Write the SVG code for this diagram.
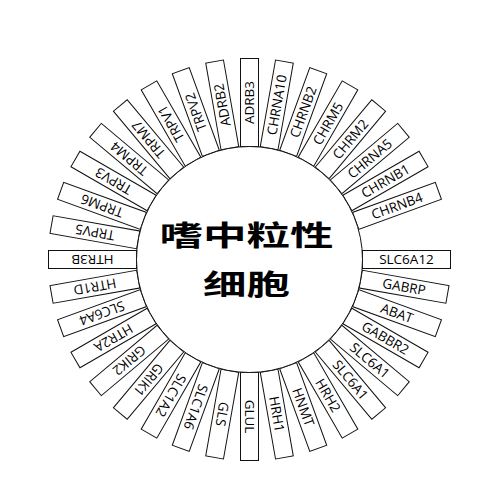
<svg xmlns="http://www.w3.org/2000/svg" width="500" height="500" viewBox="0 0 500 500">
<style>
.box{fill:#fff;stroke:#111;stroke-width:1}
.lbl{font-family:"Open Sans","Liberation Sans",Arial,sans-serif;font-size:13.5px;fill:#000;text-anchor:middle}
.core{fill:#fff;stroke:#111;stroke-width:1}
.cn{font-family:"Noto Sans CJK SC","Noto Sans CJK TC",sans-serif;font-weight:700;font-size:29px;fill:#000;text-anchor:middle}
</style>
<defs>
<rect id="bx" class="box" x="113" y="-9" width="88" height="18"/>
</defs>
<rect width="500" height="500" fill="#fff"/>
<g id="genes">
<g id="ADRB3" transform="translate(249.5,259.5) rotate(-90)"><use href="#bx"/><text class="lbl" x="157" y="4.8">ADRB3</text></g>
<g id="CHRNA10" transform="translate(249.5,259.5) rotate(-80)"><use href="#bx"/><text class="lbl" x="157" y="4.8">CHRNA10</text></g>
<g id="CHRNB2" transform="translate(249.5,259.5) rotate(-70)"><use href="#bx"/><text class="lbl" x="157" y="4.8">CHRNB2</text></g>
<g id="CHRM5" transform="translate(249.5,259.5) rotate(-60)"><use href="#bx"/><text class="lbl" x="157" y="4.8">CHRM5</text></g>
<g id="CHRM2" transform="translate(249.5,259.5) rotate(-50)"><use href="#bx"/><text class="lbl" x="157" y="4.8">CHRM2</text></g>
<g id="CHRNA5" transform="translate(249.5,259.5) rotate(-40)"><use href="#bx"/><text class="lbl" x="157" y="4.8">CHRNA5</text></g>
<g id="CHRNB1" transform="translate(249.5,259.5) rotate(-30)"><use href="#bx"/><text class="lbl" x="157" y="4.8">CHRNB1</text></g>
<g id="CHRNB4" transform="translate(249.5,259.5) rotate(-20)"><use href="#bx"/><text class="lbl" x="157" y="4.8">CHRNB4</text></g>
<g id="SLC6A12" transform="translate(249.5,259.5) rotate(0)"><use href="#bx"/><text class="lbl" x="157" y="4.8">SLC6A12</text></g>
<g id="GABRP" transform="translate(249.5,259.5) rotate(10)"><use href="#bx"/><text class="lbl" x="157" y="4.8">GABRP</text></g>
<g id="ABAT" transform="translate(249.5,259.5) rotate(20)"><use href="#bx"/><text class="lbl" x="157" y="4.8">ABAT</text></g>
<g id="GABBR2" transform="translate(249.5,259.5) rotate(30)"><use href="#bx"/><text class="lbl" x="157" y="4.8">GABBR2</text></g>
<g id="SLC6A1-a" transform="translate(249.5,259.5) rotate(40)"><use href="#bx"/><text class="lbl" x="157" y="4.8">SLC6A1</text></g>
<g id="SLC6A1-b" transform="translate(249.5,259.5) rotate(50)"><use href="#bx"/><text class="lbl" x="157" y="4.8">SLC6A1</text></g>
<g id="HRH2" transform="translate(249.5,259.5) rotate(60)"><use href="#bx"/><text class="lbl" x="157" y="4.8">HRH2</text></g>
<g id="HNMT" transform="translate(249.5,259.5) rotate(70)"><use href="#bx"/><text class="lbl" x="157" y="4.8">HNMT</text></g>
<g id="HRH1" transform="translate(249.5,259.5) rotate(80)"><use href="#bx"/><text class="lbl" x="157" y="4.8">HRH1</text></g>
<g id="GLUL" transform="translate(249.5,259.5) rotate(90)"><use href="#bx"/><text class="lbl" x="157" y="4.8">GLUL</text></g>
<g id="GLS" transform="translate(249.5,259.5) rotate(100)"><use href="#bx"/><text class="lbl" x="157" y="4.8">GLS</text></g>
<g id="SLC1A6" transform="translate(249.5,259.5) rotate(110)"><use href="#bx"/><text class="lbl" x="157" y="4.8">SLC1A6</text></g>
<g id="SLC1A2" transform="translate(249.5,259.5) rotate(120)"><use href="#bx"/><text class="lbl" x="157" y="4.8">SLC1A2</text></g>
<g id="GRIK1" transform="translate(249.5,259.5) rotate(130)"><use href="#bx"/><text class="lbl" x="157" y="4.8">GRIK1</text></g>
<g id="GRIK2" transform="translate(249.5,259.5) rotate(140)"><use href="#bx"/><text class="lbl" x="157" y="4.8">GRIK2</text></g>
<g id="HTR2A" transform="translate(249.5,259.5) rotate(150)"><use href="#bx"/><text class="lbl" x="157" y="4.8">HTR2A</text></g>
<g id="SLC6A4" transform="translate(249.5,259.5) rotate(160)"><use href="#bx"/><text class="lbl" x="157" y="4.8">SLC6A4</text></g>
<g id="HTR1D" transform="translate(249.5,259.5) rotate(170)"><use href="#bx"/><text class="lbl" x="157" y="4.8">HTR1D</text></g>
<g id="HTR3B" transform="translate(249.5,259.5) rotate(180)"><use href="#bx"/><text class="lbl" x="157" y="4.8">HTR3B</text></g>
<g id="TRPV5" transform="translate(249.5,259.5) rotate(190)"><use href="#bx"/><text class="lbl" x="157" y="4.8">TRPV5</text></g>
<g id="TRPM6" transform="translate(249.5,259.5) rotate(200)"><use href="#bx"/><text class="lbl" x="157" y="4.8">TRPM6</text></g>
<g id="TRPV3" transform="translate(249.5,259.5) rotate(210)"><use href="#bx"/><text class="lbl" x="157" y="4.8">TRPV3</text></g>
<g id="TRPM4" transform="translate(249.5,259.5) rotate(220)"><use href="#bx"/><text class="lbl" x="157" y="4.8">TRPM4</text></g>
<g id="TRPM7" transform="translate(249.5,259.5) rotate(230)"><use href="#bx"/><text class="lbl" x="157" y="4.8">TRPM7</text></g>
<g id="TRPV1" transform="translate(249.5,259.5) rotate(240)"><use href="#bx"/><text class="lbl" x="157" y="4.8">TRPV1</text></g>
<g id="TRPV2" transform="translate(249.5,259.5) rotate(250)"><use href="#bx"/><text class="lbl" x="157" y="4.8">TRPV2</text></g>
<g id="ADRB2" transform="translate(249.5,259.5) rotate(260)"><use href="#bx"/><text class="lbl" x="157" y="4.8">ADRB2</text></g>
</g>
<g id="center">
<circle class="core" cx="249.5" cy="259.5" r="113"/>
<text class="cn" transform="translate(246.5,246) scale(1.5,1)" x="0" y="0">嗜中粒性</text>
<text class="cn" transform="translate(246.5,295) scale(1.5,1)" x="0" y="0">细胞</text>
</g>
</svg>
